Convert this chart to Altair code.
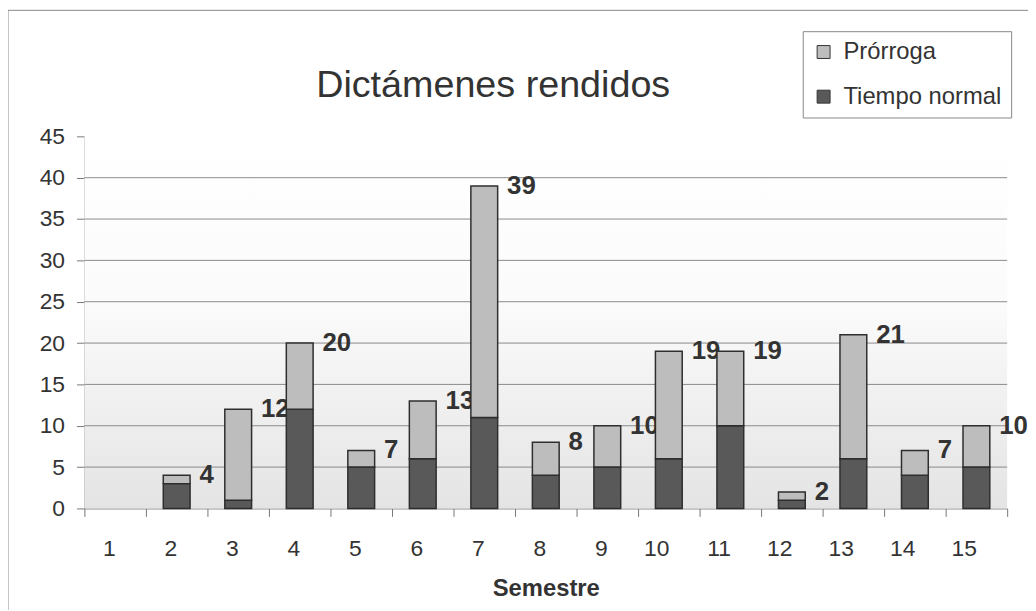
import altair as alt
import pandas as pd

semestres = list(range(1, 16))
tiempo_normal = [0, 3, 1, 12, 5, 6, 11, 4, 5, 6, 10, 1, 6, 4, 5]
totales = [0, 4, 12, 20, 7, 13, 39, 8, 10, 19, 19, 2, 21, 7, 10]
prorroga = [t - n for t, n in zip(totales, tiempo_normal)]
series = ["Prórroga", "Tiempo normal"]
titulo = "Dictámenes rendidos"
y_ticks = [0, 5, 10, 15, 20, 25, 30, 35, 40, 45]
grid_vals = [5, 10, 15, 20, 25, 30, 35, 40]

rows = []
for s, n, p in zip(semestres, tiempo_normal, prorroga):
    if n > 0:
        rows.append({"Semestre": s, "Serie": "Tiempo normal", "Valor": n, "orden": 0})
    if p > 0:
        rows.append({"Semestre": s, "Serie": "Prórroga", "Valor": p, "orden": 1})
df = pd.DataFrame(rows)
tot = pd.DataFrame({"Semestre": semestres, "Total": totales})
tot = tot[tot["Total"] > 0]

W, H = 930, 375
FONT = "Liberation Sans"
TXT = "#333333"

xscale = alt.Scale(domain=semestres, paddingInner=0, paddingOuter=0)
yscale = alt.Scale(domain=[0, 45], nice=False)

bg = alt.Chart(pd.DataFrame({"a": [0]})).mark_rect(
    fill=alt.Gradient(
        gradient="linear", x1=0, y1=0, x2=0, y2=1,
        stops=[alt.GradientStop(offset=0, color="#ffffff"),
               alt.GradientStop(offset=0.45, color="#fbfbfb"),
               alt.GradientStop(offset=1, color="#e4e4e4")]),
).encode(x=alt.value(0), x2=alt.value(W), y=alt.value(0), y2=alt.value(H))

frame = alt.Chart(pd.DataFrame({"a": [0]})).mark_rect(
    fill=None, stroke="#888888", strokeWidth=1
).encode(x=alt.value(-77), x2=alt.value(W + 60), y=alt.value(-127), y2=alt.value(H + 150))

title = alt.Chart(pd.DataFrame({"t": [titulo]})).mark_text(
    align="center", baseline="alphabetic", font=FONT, fontSize=38, color=TXT
).encode(text="t:N", x=alt.value(412), y=alt.value(-40))

grid = alt.Chart(pd.DataFrame({"g": grid_vals})).mark_rule(
    color="#8a8a8a", strokeWidth=1
).encode(y=alt.Y("g:Q", scale=yscale))

labels = alt.Chart(tot).mark_text(
    align="left", baseline="middle", dx=23, font=FONT, fontSize=26,
    fontWeight="bold", color=TXT
).encode(
    x=alt.X("Semestre:O", scale=xscale),
    y=alt.Y("Total:Q", scale=yscale),
    text="Total:Q",
)

bars = alt.Chart(df).mark_bar(size=27, stroke="#2e2e2e", strokeWidth=1.5).encode(
    x=alt.X("Semestre:O", scale=xscale,
            axis=alt.Axis(title="Semestre", labelAngle=0, tickBand="extent",
                          tickSize=8, labelPadding=32, titleFontWeight="bold",
                          titleFontSize=24, titlePadding=17, titleColor=TXT,
                          labelFontSize=23, labelColor=TXT, labelFont=FONT,
                          titleFont=FONT, domainColor="#777", tickColor="#777")),
    y=alt.Y("Valor:Q", stack="zero", scale=yscale,
            axis=alt.Axis(title=None, values=y_ticks, grid=False, tickSize=8,
                          labelPadding=12, labelFontSize=23, labelColor=TXT,
                          labelFont=FONT, domainColor="#777", tickColor="#777")),
    color=alt.Color("Serie:N", scale=alt.Scale(domain=series, range=["#bdbdbd", "#595959"]),
                    legend=alt.Legend(title=None, orient="none", legendX=724, legendY=-106,
                                      labelFontSize=24, labelFont=FONT, labelColor=TXT,
                                      symbolType="square", symbolSize=170,
                                      symbolStrokeColor="#333", symbolStrokeWidth=1,
                                      rowPadding=21, padding=9, strokeColor="#888",
                                      fillColor="white", labelOffset=8)),
    order=alt.Order("orden:Q"),
)

chart = alt.layer(frame, bg, title, grid, labels, bars).properties(
    width=W, height=H,
    autosize=alt.AutoSizeParams(type="none"),
    padding={"left": 77, "top": 127, "right": 21, "bottom": 100},
).configure_view(stroke=None)

chart.save("out.html", embed_options={"renderer": "svg", "actions": False})
